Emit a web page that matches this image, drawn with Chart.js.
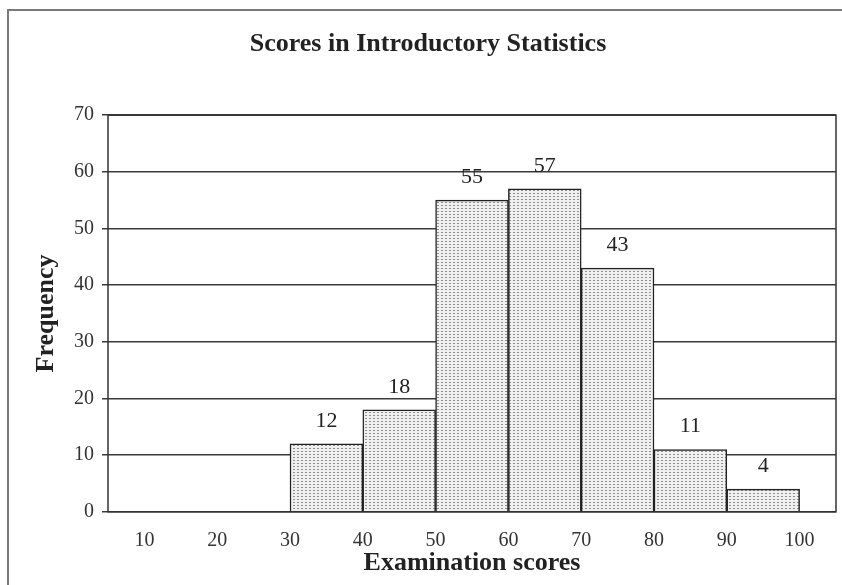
<!DOCTYPE html>
<html>
<head>
<meta charset="utf-8">
<script src="https://cdn.jsdelivr.net/npm/chart.js@4.4.1/dist/chart.umd.min.js"></script>
<style>
  html, body { margin: 0; padding: 0; background: #fff; }
  #wrap { position: relative; width: 842px; height: 585px; }
  #frame { position: absolute; left: 7px; top: 9px; width: 845px; height: 600px;
           border-left: 2px solid #7a7a7a; border-top: 2px solid #7a7a7a; box-sizing: border-box; }
  canvas { position: absolute; left: 0; top: 0; }
</style>
</head>
<body>
<div id="wrap">
  <div id="frame"></div>
  <canvas id="c" width="842" height="585"></canvas>
</div>
<script>
// Class midpoints of the score intervals and their frequencies
const classMids = [35, 45, 55, 65, 75, 85, 95];
const frequencies = [12, 18, 55, 57, 43, 11, 4];
const xTickValues = [10, 20, 30, 40, 50, 60, 70, 80, 90, 100];
const yTickValues = [0, 10, 20, 30, 40, 50, 60, 70];

const chartTitle = 'Scores in Introductory Statistics';
const xTitle = 'Examination scores';
const yTitle = 'Frequency';

const serif = '"Liberation Serif", "DejaVu Serif", serif';

// Stippled fill for the histogram bars
function stipple() {
  const t = document.createElement('canvas');
  t.width = 4; t.height = 3;
  const g = t.getContext('2d');
  g.fillStyle = '#f0f0f0';
  g.fillRect(0, 0, 4, 3);
  g.fillStyle = '#8e8e8e';
  g.fillRect(1, 1, 2, 1);
  return g.createPattern(t, 'repeat');
}

const ctx = document.getElementById('c').getContext('2d');

// Outline around the plotting area
const plotBorder = {
  id: 'plotBorder',
  afterDatasetsDraw(chart) {
    const a = chart.chartArea, c = chart.ctx;
    c.save();
    c.strokeStyle = '#333';
    c.lineWidth = 1.5;
    c.strokeRect(a.left, a.top, a.right - a.left, a.bottom - a.top);
    c.restore();
  }
};

// Frequency written above each bar
const barValues = {
  id: 'barValues',
  afterDatasetsDraw(chart) {
    const c = chart.ctx;
    const meta = chart.getDatasetMeta(0);
    c.save();
    c.font = '22px ' + serif;
    c.fillStyle = '#222';
    c.textAlign = 'center';
    c.textBaseline = 'middle';
    meta.data.forEach((bar, i) => {
      c.fillText(String(frequencies[i]), bar.x, bar.y - 23);
    });
    c.restore();
  }
};

new Chart(ctx, {
  type: 'bar',
  data: {
    datasets: [{
      data: classMids.map((m, i) => ({ x: m, y: frequencies[i] })),
      backgroundColor: stipple(),
      borderColor: '#222',
      borderWidth: 1.5,
      barPercentage: 1.0,
      categoryPercentage: 1.0
    }]
  },
  options: {
    responsive: false,
    animation: false,
    layout: { padding: { top: 29, left: 20, right: 6, bottom: 6 } },
    plugins: {
      legend: { display: false },
      tooltip: { enabled: false },
      title: {
        display: true,
        text: chartTitle,
        color: '#222',
        font: { family: serif, size: 26, weight: 'bold' },
        padding: { top: 0, bottom: 55 }
      }
    },
    scales: {
      x: {
        type: 'linear',
        min: 5,
        max: 105,
        offset: false,
        afterBuildTicks(scale) { scale.ticks = xTickValues.map(v => ({ value: v })); },
        grid: { display: false, drawTicks: false },
        border: { display: false },
        ticks: {
          color: '#333',
          font: { family: serif, size: 20 },
          padding: 17,
          maxRotation: 0,
          autoSkip: false
        },
        title: {
          display: true,
          text: xTitle,
          color: '#222',
          font: { family: serif, size: 26, weight: 'bold' },
          padding: { top: -22, bottom: 0 }
        }
      },
      y: {
        min: 0,
        max: 70,
        afterBuildTicks(scale) { scale.ticks = yTickValues.map(v => ({ value: v })); },
        afterFit(scale) { scale.width = 88; },
        grid: { color: '#3a3a3a', lineWidth: 1.5, tickLength: 6, drawTicks: true },
        border: { display: false },
        ticks: {
          color: '#333',
          font: { family: serif, size: 20 },
          padding: 8
        },
        title: {
          display: true,
          text: yTitle,
          color: '#222',
          font: { family: serif, size: 26, weight: 'bold' },
          padding: { top: 11, bottom: 0 }
        }
      }
    }
  },
  plugins: [plotBorder, barValues]
});
</script>
</body>
</html>
